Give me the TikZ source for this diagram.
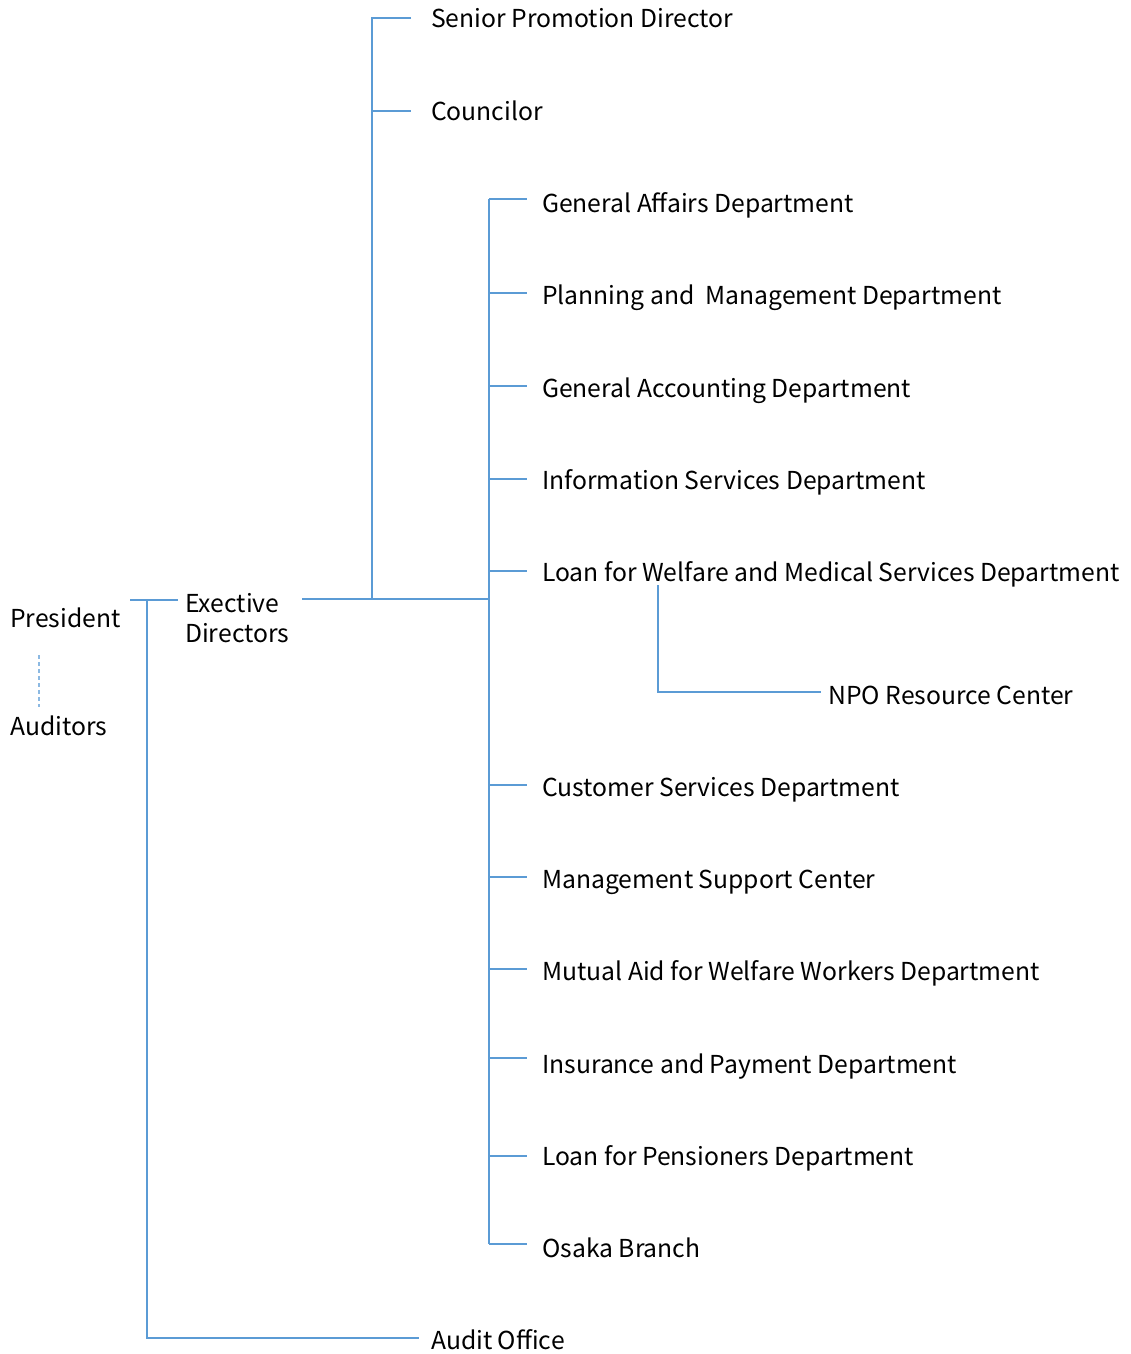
\documentclass[tikz,border=0pt]{standalone}
\usepackage{fontspec}
\setmainfont{Noto Sans CJK JP}
\begin{document}
\begin{tikzpicture}[x=1pt,y=-1pt,
  lbl/.style={anchor=base west,inner sep=0pt,font=\fontsize{24.7}{30}\selectfont},
  conn/.style={draw=lineblue,line width=1.3pt},
  dashconn/.style={draw=lineblue!70,line width=1.3pt,dashed,dash pattern=on 4pt off 3pt}]
\definecolor{lineblue}{RGB}{91,155,213}
\useasboundingbox (0,0) rectangle (1131,1354);
% labels
\node[lbl] (pres) at (10,627) {President};
\node[lbl] (aud) at (10,735) {Auditors};
\node[lbl,align=left] (exec) at (185,642) {Exective\\Directors};
\node[lbl] (spd) at (431,28) {Senior Promotion Director};
\node[lbl] (coun) at (431,120) {Councilor};
\node[lbl] (d1) at (542,212) {General Affairs Department};
\node[lbl] (d2) at (542,304) {Planning and\ \ Management Department};
\node[lbl] (d3) at (542,397) {General Accounting Department};
\node[lbl] (d4) at (542,489) {Information Services Department};
\node[lbl] (d5) at (542,581) {Loan for Welfare and Medical Services Department};
\node[lbl] (npo) at (828,704) {NPO Resource Center};
\node[lbl] (d6) at (542,796) {Customer Services Department};
\node[lbl] (d7) at (542,888) {Management Support Center};
\node[lbl] (d8) at (542,980) {Mutual Aid for Welfare Workers Department};
\node[lbl] (d9) at (542,1073) {Insurance and Payment Department};
\node[lbl] (d10) at (542,1165) {Loan for Pensioners Department};
\node[lbl] (d11) at (542,1257) {Osaka Branch};
\node[lbl] (audit) at (431,1349) {Audit Office};
% coordinates
\coordinate (pa) at (39,655);
\coordinate (pb) at (39,707);
\coordinate (p0) at (130,600);
\coordinate (p1) at (147,600);
\coordinate (p2) at (178,600);
\coordinate (p3) at (147,1338);
\coordinate (p4) at (419,1338);
\coordinate (e0) at (302,599);
\coordinate (e1) at (372,599);
\coordinate (e2) at (489,599);
\coordinate (s0) at (372,18);
\coordinate (s1) at (411,18);
\coordinate (c0) at (372,111);
\coordinate (c1) at (411,111);
\coordinate (v0) at (489,199);
\coordinate (v1) at (489,1244);
\coordinate (n0) at (658,585);
\coordinate (n1) at (658,692);
\coordinate (n2) at (821,692);
% connectors
\draw[dashconn] (pa) -- (pb);
\draw[conn] (p0) -- (p2);
\draw[conn] (p1) -- (p3) -- (p4);
\draw[conn] (e0) -- (e2);
\draw[conn] (s1) -- (s0) -- (e1);
\draw[conn] (c0) -- (c1);
\draw[conn] (v0) -- (v1);
\foreach \yy in {199,293,386,479,571,785,877,969,1058,1156,1244}
  \draw[conn] (489,\yy) -- (527,\yy);
\draw[conn] (n0) -- (n1) -- (n2);
\end{tikzpicture}
\end{document}
